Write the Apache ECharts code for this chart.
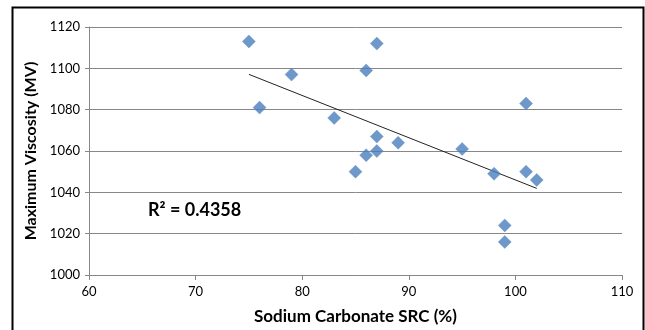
<!DOCTYPE html>
<html>
<head>
<meta charset="utf-8">
<script src="https://cdn.jsdelivr.net/npm/echarts@6/dist/echarts.min.js"></script>
<style>
  html, body { margin: 0; padding: 0; background: #fff; }
  #chart { width: 645px; height: 330px; }
</style>
</head>
<body>
<div id="chart"></div>
<script>
// Sodium Carbonate SRC (%) vs Maximum Viscosity (MV)
const srcValues = [75, 76, 79, 87, 86, 101, 83, 87, 89, 86, 87, 95, 85, 98, 101, 102, 99, 99];
const viscValues = [1113, 1081, 1097, 1112, 1099, 1083, 1076, 1067, 1064, 1058, 1060, 1061, 1050, 1049, 1050, 1046, 1024, 1016];
const xTicks = [60, 70, 80, 90, 100, 110];
const yTicks = [1000, 1020, 1040, 1060, 1080, 1100, 1120];
const rSquaredLabel = "R² = 0.4358";

// linear trend line (least squares) over the points
const n = srcValues.length;
const mx = srcValues.reduce((a, b) => a + b, 0) / n;
const my = viscValues.reduce((a, b) => a + b, 0) / n;
let sxy = 0, sxx = 0;
for (let i = 0; i < n; i++) {
  sxy += (srcValues[i] - mx) * (viscValues[i] - my);
  sxx += (srcValues[i] - mx) ** 2;
}
const slope = sxy / sxx;
const intercept = my - slope * mx;
const xLo = Math.min(...srcValues), xHi = Math.max(...srcValues);
const trend = [[xLo, intercept + slope * xLo], [xHi, intercept + slope * xHi]];

const font = "Lato, 'Open Sans', sans-serif";
const gray = "#878787";

const chart = echarts.init(document.getElementById("chart"), null, { renderer: "canvas" });
chart.setOption({
  animation: false,
  grid: { left: 89, top: 27, width: 533, height: 249, containLabel: false },
  xAxis: {
    type: "value",
    min: xTicks[0], max: xTicks[xTicks.length - 1], interval: 10,
    name: "Sodium Carbonate SRC (%)",
    nameLocation: "middle", nameGap: 33,
    nameTextStyle: { fontFamily: font, fontWeight: "bold", fontSize: 17, color: "#000" },
    axisLine: { show: true, lineStyle: { color: gray, width: 1 } },
    axisTick: { show: true, length: 5, lineStyle: { color: gray } },
    axisLabel: { fontFamily: font, fontSize: 13, color: "#000", margin: 10, formatter: v => String(v) },
    splitLine: { show: false }
  },
  yAxis: {
    type: "value",
    min: yTicks[0], max: yTicks[yTicks.length - 1], interval: 20,
    name: "Maximum Viscosity (MV)",
    nameLocation: "middle", nameGap: 49,
    nameTextStyle: { fontFamily: font, fontWeight: "bold", fontSize: 16, color: "#000" },
    axisLine: { show: true, lineStyle: { color: gray, width: 1 } },
    axisTick: { show: true, length: 4, lineStyle: { color: gray } },
    axisLabel: { fontFamily: font, fontSize: 13, color: "#000", margin: 9, formatter: v => String(v) },
    splitLine: { show: true, lineStyle: { color: gray, width: 1 } }
  },
  series: [
    {
      type: "line",
      data: trend,
      showSymbol: false,
      silent: true,
      lineStyle: { color: "#222", width: 1 },
      z: 1
    },
    {
      type: "scatter",
      data: srcValues.map((x, i) => [x, viscValues[i]]),
      symbol: "diamond",
      symbolSize: [13, 13],
      itemStyle: { color: "#4a7ebb", borderColor: "#5b8cc6", borderWidth: 0.5 },
      z: 2
    }
  ],
  graphic: [
    {
      type: "rect",
      shape: { x: 12.5, y: 7.5, width: 631, height: 340 },
      style: { fill: null, stroke: "#000", lineWidth: 2 },
      silent: true
    },
    {
      type: "text",
      left: 148, top: 201,
      style: { text: rSquaredLabel, fontFamily: font, fontWeight: "bold", fontSize: 18, fill: "#000" }
    }
  ]
});
</script>
</body>
</html>
